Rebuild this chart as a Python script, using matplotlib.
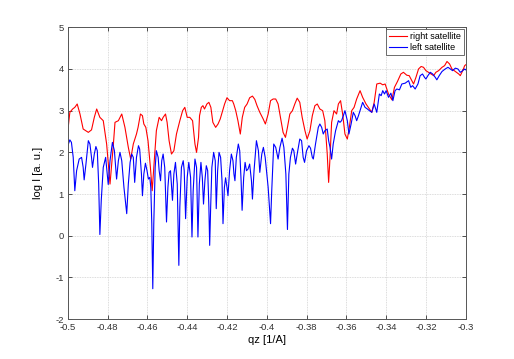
import matplotlib
matplotlib.use("Agg")
import matplotlib.pyplot as plt
from matplotlib.ticker import FormatStrFormatter

plt.rcParams['font.family'] = ['Liberation Sans', 'DejaVu Sans']
plt.rcParams['axes.unicode_minus'] = False

# values (qz in 1/A, log intensity)
right_qz = [-0.5000, -0.4990, -0.4976, -0.4965, -0.4953, -0.4939, -0.4923, -0.4897, -0.4881, -0.4867,
            -0.4855, -0.4839, -0.4822, -0.4805, -0.4788, -0.4771, -0.4763, -0.4746, -0.4729, -0.4713,
            -0.4696, -0.4684, -0.4671, -0.4655, -0.4647, -0.4635, -0.4625, -0.4618, -0.4608, -0.4597,
            -0.4585, -0.4576, -0.4568, -0.4555, -0.4541, -0.4529, -0.4521, -0.4509, -0.4501, -0.4491,
            -0.4479, -0.4467, -0.4454, -0.4437, -0.4423, -0.4412, -0.4400, -0.4387, -0.4373, -0.4361,
            -0.4353, -0.4343, -0.4338, -0.4329, -0.4321, -0.4313, -0.4301, -0.4291, -0.4281, -0.4271,
            -0.4257, -0.4245, -0.4234, -0.4224, -0.4212, -0.4200, -0.4187, -0.4173, -0.4166, -0.4156,
            -0.4145, -0.4133, -0.4123, -0.4111, -0.4099, -0.4086, -0.4072, -0.4060, -0.4049, -0.4035,
            -0.4018, -0.4007, -0.3993, -0.3981, -0.3968, -0.3955, -0.3943, -0.3931, -0.3918, -0.3906,
            -0.3896, -0.3884, -0.3871, -0.3859, -0.3847, -0.3834, -0.3822, -0.3808, -0.3797, -0.3783,
            -0.3771, -0.3758, -0.3746, -0.3733, -0.3719, -0.3708, -0.3696, -0.3689, -0.3682, -0.3674,
            -0.3662, -0.3649, -0.3640, -0.3629, -0.3618, -0.3607, -0.3595, -0.3585, -0.3573, -0.3561,
            -0.3548, -0.3531, -0.3518, -0.3501, -0.3484, -0.3472, -0.3460, -0.3447, -0.3430, -0.3417,
            -0.3405, -0.3388, -0.3371, -0.3358, -0.3343, -0.3326, -0.3313, -0.3296, -0.3284, -0.3271,
            -0.3262, -0.3250, -0.3237, -0.3224, -0.3212, -0.3200, -0.3187, -0.3173, -0.3161, -0.3150,
            -0.3136, -0.3119, -0.3106, -0.3094, -0.3081, -0.3069, -0.3052, -0.3035, -0.3027, -0.3015,
            -0.3005, -0.3000]
right_logI = [2.52, 2.96, 3.04, 3.08, 3.16, 2.92, 2.56, 2.48, 2.54, 2.84,
              3.04, 2.84, 2.76, 2.20, 1.24, 2.20, 2.72, 2.76, 2.92, 2.60,
              2.12, 1.84, 2.20, 2.44, 2.60, 2.92, 2.88, 2.68, 2.60, 2.28,
              1.64, 1.08, 1.64, 2.52, 2.84, 2.76, 2.84, 2.92, 2.72, 2.28,
              1.96, 2.04, 2.44, 2.76, 3.00, 3.08, 2.84, 2.84, 2.76, 2.20,
              2.00, 2.36, 2.88, 3.08, 3.12, 3.04, 3.16, 3.20, 3.08, 2.72,
              2.60, 2.68, 2.80, 2.96, 3.16, 3.31, 3.24, 3.24, 3.16, 3.00,
              2.76, 2.44, 2.84, 3.08, 3.16, 3.31, 3.35, 3.27, 3.12, 2.96,
              2.80, 2.68, 2.92, 3.24, 3.28, 3.28, 3.16, 2.84, 2.48, 2.36,
              2.60, 2.92, 3.00, 3.16, 3.30, 3.20, 2.84, 2.52, 2.32, 2.52,
              2.88, 3.12, 3.16, 3.04, 3.00, 2.76, 1.96, 1.28, 1.88, 2.72,
              3.00, 2.92, 3.16, 3.24, 2.90, 2.44, 2.32, 2.60, 3.00, 3.08,
              3.28, 3.48, 3.32, 3.16, 3.04, 2.96, 3.20, 3.64, 3.66, 3.62,
              3.64, 3.40, 3.26, 3.56, 3.70, 3.88, 3.92, 3.85, 3.84, 3.72,
              3.64, 3.80, 4.00, 4.06, 4.04, 3.96, 3.92, 3.88, 3.84, 3.92,
              3.96, 4.04, 4.08, 4.18, 4.12, 4.00, 3.94, 3.88, 3.84, 3.96,
              4.08, 4.10]

left_qz = [-0.5000, -0.4990, -0.4982, -0.4973, -0.4965, -0.4956, -0.4943, -0.4931, -0.4923, -0.4918,
           -0.4909, -0.4897, -0.4889, -0.4881, -0.4876, -0.4867, -0.4859, -0.4852, -0.4845, -0.4839,
           -0.4832, -0.4822, -0.4810, -0.4805, -0.4797, -0.4788, -0.4776, -0.4766, -0.4755, -0.4746,
           -0.4738, -0.4729, -0.4718, -0.4704, -0.4696, -0.4687, -0.4679, -0.4671, -0.4664, -0.4655,
           -0.4645, -0.4639, -0.4630, -0.4625, -0.4618, -0.4610, -0.4602, -0.4595, -0.4588, -0.4583,
           -0.4578, -0.4573, -0.4568, -0.4561, -0.4555, -0.4546, -0.4541, -0.4534, -0.4528, -0.4521,
           -0.4513, -0.4504, -0.4497, -0.4491, -0.4484, -0.4474, -0.4467, -0.4459, -0.4450, -0.4442,
           -0.4437, -0.4429, -0.4420, -0.4415, -0.4408, -0.4400, -0.4392, -0.4383, -0.4376, -0.4370,
           -0.4361, -0.4353, -0.4346, -0.4339, -0.4331, -0.4324, -0.4318, -0.4311, -0.4304, -0.4297,
           -0.4291, -0.4287, -0.4282, -0.4276, -0.4267, -0.4259, -0.4254, -0.4247, -0.4240, -0.4232,
           -0.4225, -0.4220, -0.4213, -0.4207, -0.4200, -0.4195, -0.4187, -0.4178, -0.4170, -0.4165,
           -0.4160, -0.4153, -0.4143, -0.4136, -0.4129, -0.4124, -0.4116, -0.4109, -0.4102, -0.4094,
           -0.4086, -0.4077, -0.4072, -0.4064, -0.4052, -0.4042, -0.4035, -0.4025, -0.4017, -0.4008,
           -0.3993, -0.3981, -0.3975, -0.3965, -0.3955, -0.3943, -0.3934, -0.3923, -0.3914, -0.3904,
           -0.3896, -0.3889, -0.3881, -0.3871, -0.3864, -0.3855, -0.3847, -0.3834, -0.3825, -0.3817,
           -0.3810, -0.3800, -0.3788, -0.3780, -0.3771, -0.3766, -0.3755, -0.3741, -0.3733, -0.3724,
           -0.3716, -0.3708, -0.3696, -0.3689, -0.3682, -0.3674, -0.3666, -0.3654, -0.3640, -0.3632,
           -0.3624, -0.3615, -0.3607, -0.3595, -0.3587, -0.3576, -0.3565, -0.3556, -0.3548, -0.3539,
           -0.3531, -0.3518, -0.3506, -0.3494, -0.3484, -0.3472, -0.3460, -0.3447, -0.3434, -0.3425,
           -0.3417, -0.3408, -0.3400, -0.3388, -0.3376, -0.3366, -0.3355, -0.3346, -0.3333, -0.3321,
           -0.3304, -0.3287, -0.3276, -0.3267, -0.3254, -0.3240, -0.3229, -0.3217, -0.3207, -0.3200,
           -0.3190, -0.3178, -0.3166, -0.3153, -0.3145, -0.3133, -0.3119, -0.3103, -0.3089, -0.3077,
           -0.3066, -0.3052, -0.3039, -0.3027, -0.3015, -0.3005, -0.3000]
left_logI = [2.16, 2.30, 2.24, 1.88, 1.08, 1.56, 1.84, 1.88, 1.64, 1.34,
             1.72, 2.28, 2.20, 1.88, 1.64, 1.96, 2.14, 2.04, 1.24, 0.03,
             0.85, 1.64, 1.88, 1.64, 1.23, 1.80, 2.24, 2.04, 1.36, 1.80,
             2.00, 1.80, 1.16, 0.53, 1.24, 1.76, 1.96, 1.88, 1.28, 1.88,
             2.16, 2.08, 1.48, 0.96, 1.48, 1.74, 1.56, 1.36, 1.40, 1.16,
             0.29, -1.27, 0.29, 1.64, 2.04, 1.88, 1.56, 1.32, 1.80, 1.96,
             1.64, 0.33, 1.16, 1.52, 1.56, 0.85, 1.48, 1.76, 1.24, -0.71,
             0.69, 1.64, 1.80, 1.56, 0.41, 1.40, 1.76, 1.40, -0.03, 1.08,
             1.84, 1.64, -0.03, 1.24, 1.76, 1.40, 0.76, 1.32, 1.68, 1.56,
             0.69, -0.23, 0.69, 1.64, 2.00, 1.80, 0.65, 1.56, 2.00, 1.88,
             1.32, 0.29, 1.16, 1.39, 1.16, 0.96, 1.56, 1.96, 1.80, 1.48,
             1.32, 1.88, 2.20, 2.04, 1.32, 0.61, 1.40, 1.76, 1.56, 1.60,
             1.72, 1.32, 0.88, 1.56, 2.28, 2.04, 1.52, 1.96, 2.12, 1.88,
             1.16, 0.29, 1.08, 2.20, 2.12, 1.84, 2.12, 2.34, 2.12, 1.48,
             0.15, 1.48, 1.88, 2.10, 2.04, 1.72, 1.96, 2.32, 2.28, 1.88,
             1.76, 2.04, 2.16, 2.10, 1.88, 1.84, 2.20, 2.60, 2.68, 2.60,
             2.44, 2.52, 2.56, 2.28, 2.12, 1.84, 2.20, 2.52, 2.76, 2.72,
             2.76, 2.88, 3.00, 2.76, 2.44, 2.68, 2.96, 2.88, 2.76, 2.88,
             3.00, 3.20, 3.08, 3.04, 3.00, 2.96, 3.16, 2.96, 3.40, 3.36,
             3.48, 3.40, 3.48, 3.32, 3.42, 3.24, 3.48, 3.52, 3.50, 3.64,
             3.66, 3.72, 3.56, 3.60, 3.52, 3.64, 3.84, 3.88, 3.80, 3.76,
             3.84, 3.92, 3.88, 3.80, 3.74, 3.84, 3.94, 4.00, 4.04, 4.00,
             3.96, 4.02, 4.00, 3.92, 3.96, 4.00, 3.98]

x_ticks = [-0.5, -0.48, -0.46, -0.44, -0.42, -0.4, -0.38, -0.36, -0.34, -0.32, -0.3]
y_ticks = [-2, -1, 0, 1, 2, 3, 4, 5]

fig = plt.figure(figsize=(5.14, 3.59), dpi=100)
ax = fig.add_axes([0.132, 0.111, 0.774, 0.813])

ax.plot(right_qz, right_logI, color='#ff0000', lw=0.8, label='right satellite')
ax.plot(left_qz, left_logI, color='#0000ff', lw=0.8, label='left satellite')

ax.set_xlim(-0.5, -0.3)
ax.set_ylim(-2, 5)
ax.set_xticks(x_ticks)
ax.set_yticks(y_ticks)
ax.xaxis.set_major_formatter(FormatStrFormatter('%g'))

ax.grid(True, color='#d0d0d0', linestyle=(0, (1, 1)), lw=0.6)
ax.set_axisbelow(True)

ax.tick_params(direction='in', length=3, width=0.6, labelsize=6.8, colors='#333333',
               top=True, right=True, pad=3)
for s in ax.spines.values():
    s.set_color('#555555')
    s.set_linewidth(0.7)

ax.set_xlabel('qz [1/A]', fontsize=8, labelpad=2)
ax.set_ylabel('log I [a. u.]', fontsize=8, labelpad=9)

leg = ax.legend(loc='upper right', fontsize=6.5, handlelength=2.0, handletextpad=0.3,
                borderpad=0.35, labelspacing=0.2, fancybox=False, framealpha=1,
                borderaxespad=0.2)
leg.get_frame().set_edgecolor('#555555')
leg.get_frame().set_linewidth(0.6)

fig.savefig('out.png', dpi=100)
